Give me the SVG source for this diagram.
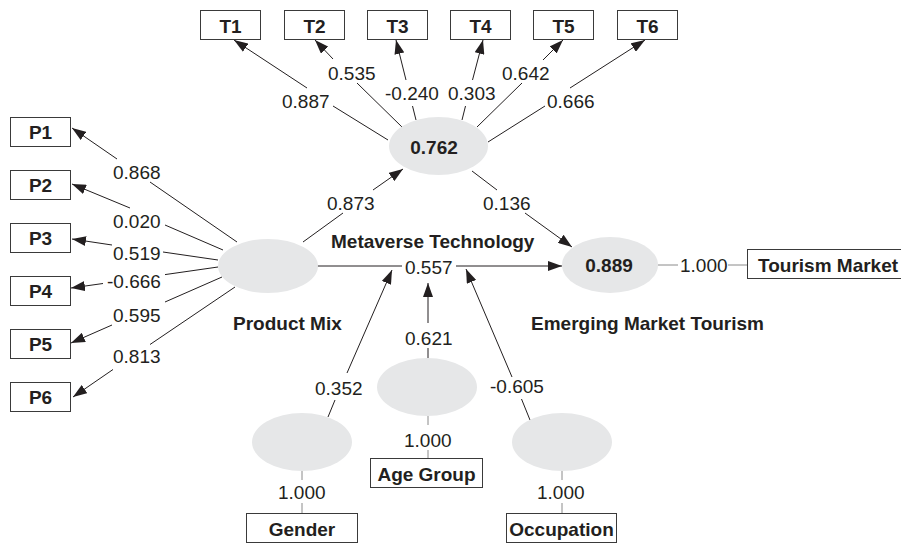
<svg xmlns="http://www.w3.org/2000/svg" width="901" height="543" viewBox="0 0 901 543">
  <defs>
    <marker id="arrow" markerUnits="userSpaceOnUse" markerWidth="14" markerHeight="10" refX="14" refY="5" orient="auto" viewBox="0 0 14 10">
      <path d="M0,0 L14,5 L0,10 z" fill="#231f20"/>
    </marker>
    <style>
      text { font-family: "Liberation Sans", Arial, sans-serif; font-size: 19px; fill: #231f20; }
      .b { font-weight: bold; }
      .m { text-anchor: middle; }
      .box { fill: #ffffff; stroke: #3a3a3a; stroke-width: 1; }
      .lv { fill: #e6e7e8; }
      .path { stroke: #231f20; stroke-width: 1; fill: none; }
      .tip { marker-end: url(#arrow); }
      .meas { stroke: #8a8a8a; stroke-width: 1; fill: none; }
    </style>
  </defs>
  <rect width="901" height="543" fill="#ffffff"/>

  <!-- connectors: path coefficients and loadings, each broken around its label -->
  <g id="connectors">
    <!-- Metaverse Technology -> T1..T6 -->
    <line class="path" x1="388" y1="140" x2="333" y2="106"/>
    <line class="path tip" x1="307" y1="88" x2="234" y2="40"/>
    <line class="path" x1="402" y1="127" x2="357" y2="83"/>
    <line class="path tip" x1="333" y1="59" x2="315" y2="40"/>
    <line class="path" x1="416" y1="120" x2="412.5" y2="106"/>
    <line class="path tip" x1="406" y1="80" x2="396" y2="40"/>
    <line class="path" x1="462" y1="120" x2="465.5" y2="106"/>
    <line class="path tip" x1="472.5" y1="80" x2="483" y2="40"/>
    <line class="path" x1="477" y1="127" x2="522" y2="83"/>
    <line class="path tip" x1="543" y1="60" x2="563" y2="40"/>
    <line class="path" x1="488" y1="142" x2="545" y2="106"/>
    <line class="path tip" x1="570" y1="88" x2="645" y2="40"/>

    <!-- Product Mix -> P1..P6 -->
    <line class="path" x1="237" y1="242" x2="150" y2="182"/>
    <line class="path tip" x1="117" y1="159" x2="72" y2="128"/>
    <line class="path" x1="223" y1="250" x2="165" y2="225"/>
    <line class="path tip" x1="130" y1="208" x2="72" y2="184"/>
    <line class="path" x1="218" y1="260" x2="163" y2="252"/>
    <line class="path tip" x1="112" y1="245" x2="72" y2="239"/>
    <line class="path" x1="218" y1="267" x2="165" y2="274.6"/>
    <line class="path tip" x1="103" y1="283.5" x2="71" y2="288"/>
    <line class="path" x1="222" y1="277" x2="165" y2="302"/>
    <line class="path tip" x1="112" y1="325" x2="71" y2="343"/>
    <line class="path" x1="235" y1="287" x2="150" y2="344.5"/>
    <line class="path tip" x1="113" y1="369.5" x2="73" y2="397"/>

    <!-- Product Mix -> Metaverse Technology -->
    <line class="path" x1="303" y1="242" x2="343" y2="213"/>
    <line class="path tip" x1="373" y1="190" x2="403" y2="169"/>
    <!-- Metaverse Technology -> Emerging Market Tourism -->
    <line class="path" x1="472" y1="171" x2="497" y2="190"/>
    <line class="path tip" x1="525" y1="213" x2="572" y2="247"/>
    <!-- Product Mix -> Emerging Market Tourism -->
    <line class="path" x1="317" y1="266" x2="402" y2="266"/>
    <line class="path tip" x1="456" y1="266" x2="562" y2="266"/>

    <!-- moderators -> direct path -->
    <line class="path" x1="328" y1="417" x2="335" y2="400"/>
    <line class="path tip" x1="347" y1="373" x2="392" y2="270"/>
    <line class="path" x1="428" y1="358" x2="428" y2="348"/>
    <line class="path tip" x1="428" y1="323" x2="428" y2="283"/>
    <line class="path" x1="530" y1="420" x2="521.5" y2="399"/>
    <line class="path tip" x1="512" y1="377" x2="466" y2="269"/>

    <!-- single-indicator loadings -->
    <line class="meas" x1="658" y1="265" x2="678" y2="265"/>
    <line class="meas" x1="728" y1="265" x2="747" y2="265"/>
    <line class="meas" x1="302" y1="471" x2="302" y2="480"/>
    <line class="meas" x1="302" y1="503" x2="302" y2="513"/>
    <line class="meas" x1="428" y1="416" x2="428" y2="425"/>
    <line class="meas" x1="428" y1="450" x2="428" y2="458"/>
    <line class="meas" x1="562" y1="471" x2="562" y2="480"/>
    <line class="meas" x1="562" y1="503" x2="562" y2="513"/>

    <!-- coefficient labels -->
    <text x="282" y="108">0.887</text>
    <text x="328" y="80">0.535</text>
    <text x="385" y="100">-0.240</text>
    <text x="448" y="100">0.303</text>
    <text x="502" y="80">0.642</text>
    <text x="547" y="108">0.666</text>
    <text x="113" y="179">0.868</text>
    <text x="113" y="228">0.020</text>
    <text x="113" y="260">0.519</text>
    <text x="107" y="288">-0.666</text>
    <text x="113" y="322">0.595</text>
    <text x="113" y="363">0.813</text>
    <text x="327" y="210">0.873</text>
    <text x="483" y="210">0.136</text>
    <text x="405" y="274">0.557</text>
    <text x="315" y="395">0.352</text>
    <text x="405" y="345">0.621</text>
    <text x="490" y="393">-0.605</text>
    <text x="680" y="272">1.000</text>
    <text x="278" y="499">1.000</text>
    <text x="404" y="447">1.000</text>
    <text x="537" y="499">1.000</text>
  </g>

  <!-- indicators of Metaverse Technology -->
  <g id="T1"><rect class="box" x="200.5" y="10.5" width="60" height="29"/><text class="b m" x="230.5" y="33">T1</text></g>
  <g id="T2"><rect class="box" x="284.5" y="10.5" width="60" height="29"/><text class="b m" x="314.5" y="33">T2</text></g>
  <g id="T3"><rect class="box" x="367.5" y="10.5" width="60" height="29"/><text class="b m" x="397.5" y="33">T3</text></g>
  <g id="T4"><rect class="box" x="450.5" y="10.5" width="60" height="29"/><text class="b m" x="480.5" y="33">T4</text></g>
  <g id="T5"><rect class="box" x="533.5" y="10.5" width="60" height="29"/><text class="b m" x="563.5" y="33">T5</text></g>
  <g id="T6"><rect class="box" x="617.5" y="10.5" width="60" height="29"/><text class="b m" x="647.5" y="33">T6</text></g>

  <!-- indicators of Product Mix -->
  <g id="P1"><rect class="box" x="10.5" y="117.5" width="60" height="29"/><text class="b m" x="40.5" y="139">P1</text></g>
  <g id="P2"><rect class="box" x="10.5" y="170.5" width="60" height="29"/><text class="b m" x="40.5" y="192">P2</text></g>
  <g id="P3"><rect class="box" x="10.5" y="223.5" width="60" height="29"/><text class="b m" x="40.5" y="245">P3</text></g>
  <g id="P4"><rect class="box" x="10.5" y="276.5" width="60" height="29"/><text class="b m" x="40.5" y="298">P4</text></g>
  <g id="P5"><rect class="box" x="10.5" y="329.5" width="60" height="29"/><text class="b m" x="40.5" y="351">P5</text></g>
  <g id="P6"><rect class="box" x="10.5" y="382.5" width="60" height="29"/><text class="b m" x="40.5" y="404">P6</text></g>

  <!-- latent variables -->
  <g id="metaverse-technology">
    <ellipse class="lv" cx="438.5" cy="146" rx="49.5" ry="29"/>
    <text class="b m" x="434" y="154">0.762</text>
    <text class="b" x="331" y="248">Metaverse Technology</text>
  </g>
  <g id="product-mix">
    <ellipse class="lv" cx="268" cy="266" rx="50" ry="27"/>
    <text class="b" x="233" y="330">Product Mix</text>
  </g>
  <g id="emerging-market-tourism">
    <ellipse class="lv" cx="610" cy="265" rx="48" ry="28"/>
    <text class="b m" x="609" y="272">0.889</text>
    <text class="b" x="531" y="330">Emerging Market Tourism</text>
  </g>
  <g id="gender-lv"><ellipse class="lv" cx="302" cy="442" rx="50" ry="29"/></g>
  <g id="age-group-lv"><ellipse class="lv" cx="427" cy="387" rx="50" ry="29"/></g>
  <g id="occupation-lv"><ellipse class="lv" cx="562" cy="442" rx="50" ry="29"/></g>

  <!-- single indicators -->
  <g id="tourism-market"><rect class="box" x="747.5" y="249.5" width="160" height="29"/><text class="b" x="758" y="272">Tourism Market</text></g>
  <g id="age-group"><rect class="box" x="370.5" y="458.5" width="112" height="29"/><text class="b m" x="426.5" y="481">Age Group</text></g>
  <g id="gender"><rect class="box" x="246.5" y="513.5" width="111" height="29"/><text class="b m" x="302" y="536">Gender</text></g>
  <g id="occupation"><rect class="box" x="506.5" y="513.5" width="110" height="29"/><text class="b m" x="561.5" y="536">Occupation</text></g>
</svg>
